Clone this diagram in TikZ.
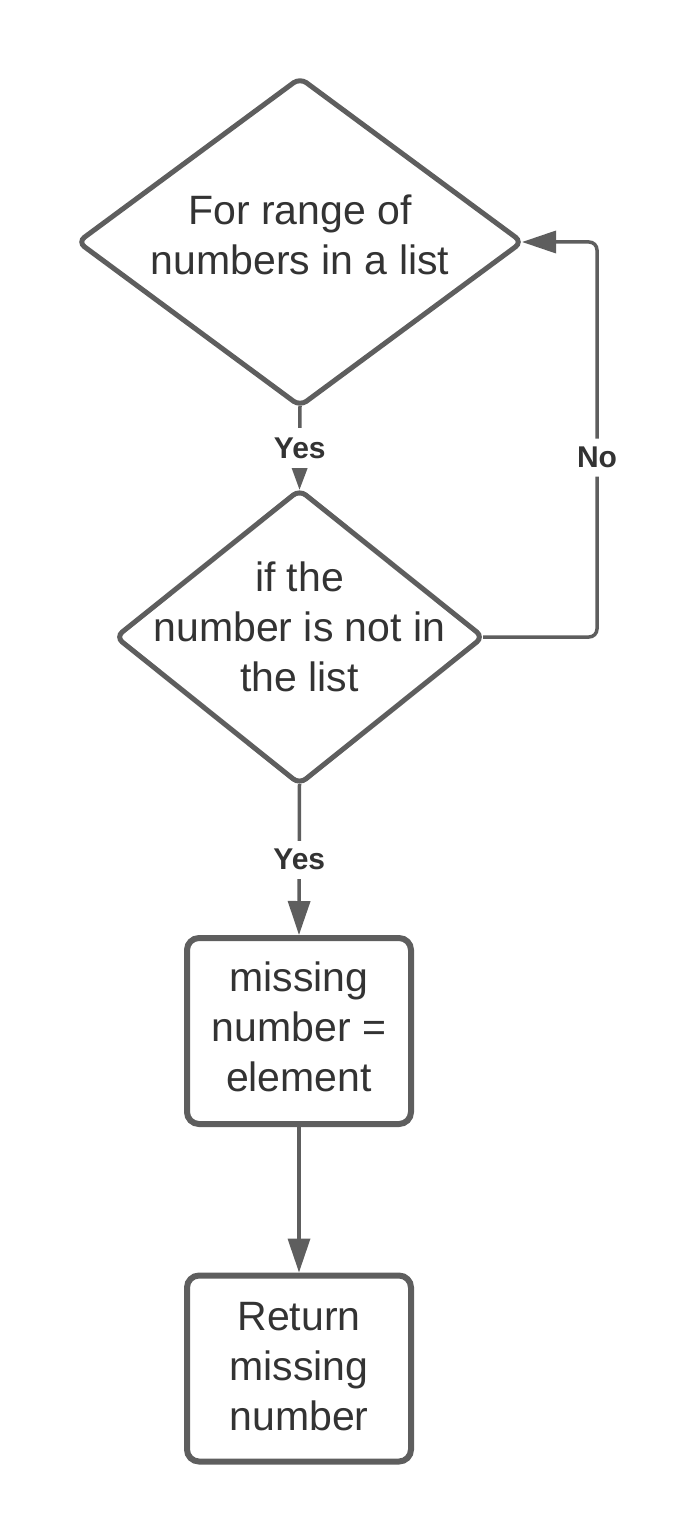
\documentclass[tikz,border=0pt]{standalone}
\usepackage{fontspec}
\setmainfont{Liberation Sans}
\usetikzlibrary{arrows.meta,shapes.geometric}
\definecolor{ln}{HTML}{5E5E5E}
\definecolor{tx}{HTML}{333333}
\begin{document}
\begin{tikzpicture}[x=1pt,y=-1pt,
 dia/.style={draw=ln, line width=5pt, diamond, inner sep=0pt, outer sep=0pt, rounded corners=8pt},
 box/.style={draw=ln, line width=6pt, rectangle, rounded corners=12pt, minimum width=224pt, minimum height=186pt},
 txt/.style={text=tx, align=center, font=\fontsize{41}{50}\selectfont, inner sep=0pt},
 conn/.style={draw=ln, line width=3.5pt, -{Triangle[length=34pt,width=22pt]}},
 lbl/.style={fill=white, text=tx, font=\fontsize{30}{36}\selectfont\bfseries, inner sep=0pt, minimum height=38pt, minimum width=60pt}]
\useasboundingbox (0,0) rectangle (694,1538);
\node[dia, minimum width=444pt, minimum height=328pt] (d1) at (300,242) {};
\node[txt] (t1) at (300,235) {For range of\\numbers in a list};
\node[dia, minimum width=367pt, minimum height=294pt] (d2) at (299.5,637) {};
\node[txt] (t2) at (299.5,627) {if the\\number is not in\\the list};
\node[box, inner sep=0pt] (b1) at (299,1031) {};
\node[txt] (t3) at (299,1027) {missing\\number =\\element};
\node[box, inner sep=0pt] (b2) at (299,1368.5) {};
\node[txt] (t4) at (299,1366.5) {Return\\missing\\number};
\draw[conn, -{Triangle[length=22pt,width=15pt]}] (d1.south) -- node[lbl, pos=0.5, minimum height=40pt]{Yes} (d2.north);
\draw[conn] (d2.south) -- node[lbl, pos=0.5]{Yes} (b1.north);
\draw[conn] (b1.south) -- (b2.north);
\draw[conn, rounded corners=8pt] (d2.east) -- ++(114,0) |- node[lbl, pos=0.227]{No} (d1.east);
\end{tikzpicture}
\end{document}
